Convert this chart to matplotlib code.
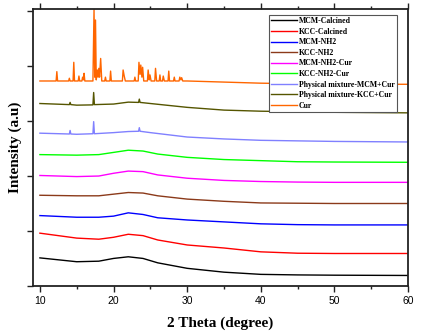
import matplotlib
matplotlib.use("Agg")
import matplotlib.pyplot as plt
from matplotlib.ticker import MultipleLocator

# broad amorphous curves (x in degree, y in plot units)
x_broad = [10, 15, 18, 20, 22, 24, 26, 30, 35, 40, 45, 50, 60]

mcm_calcined = [0.51, 0.44, 0.45, 0.50, 0.53, 0.50, 0.42, 0.32, 0.25, 0.21, 0.20, 0.195, 0.19]
kcc_calcined = [0.96, 0.87, 0.85, 0.885, 0.94, 0.915, 0.836, 0.745, 0.69, 0.62, 0.595, 0.59, 0.59]
mcm_nh2 = [1.28, 1.25, 1.25, 1.27, 1.33, 1.30, 1.24, 1.20, 1.165, 1.13, 1.115, 1.11, 1.11]
kcc_nh2 = [1.65, 1.64, 1.64, 1.67, 1.70, 1.69, 1.64, 1.58, 1.54, 1.51, 1.505, 1.50, 1.50]
mcm_nh2_cur = [2.01, 1.99, 2.00, 2.05, 2.09, 2.08, 2.02, 1.96, 1.92, 1.90, 1.89, 1.885, 1.885]
kcc_nh2_cur = [2.39, 2.38, 2.39, 2.43, 2.47, 2.455, 2.40, 2.34, 2.30, 2.28, 2.26, 2.255, 2.25]

# physical mixtures: small curcumin peaks on top of the silica hump
x_mix = [10, 14.0, 14.1, 14.2, 15, 17.2, 17.3, 17.4, 20, 22, 23.4, 23.5, 23.6, 25, 30, 35, 40, 50, 60]
mix_mcm = [2.78, 2.765, 2.83, 2.765, 2.76, 2.77, 2.99, 2.77, 2.79, 2.81, 2.815, 2.88, 2.815,
           2.79, 2.71, 2.675, 2.65, 2.63, 2.62]
mix_kcc = [3.32, 3.30, 3.34, 3.30, 3.29, 3.295, 3.52, 3.30, 3.31, 3.345, 3.34, 3.40, 3.34,
           3.32, 3.25, 3.20, 3.18, 3.16, 3.15]

# pure curcumin: crystalline peaks
x_cur = [10, 12.2, 12.3, 12.4, 13.9, 14.0, 14.1, 14.5, 14.6, 14.7, 15.2, 15.3, 15.4, 15.7, 15.8,
         15.9, 16.0, 16.1, 17.2, 17.35, 17.45, 17.55, 17.65, 17.8, 17.9, 18.0, 18.1, 18.25, 18.4,
         18.8, 18.9, 19.0, 19.5, 19.6, 19.7, 21.2, 21.3, 21.45, 21.6, 22.8, 22.9, 23.0, 23.35,
         23.45, 23.6, 23.7, 23.85, 23.95, 24.1, 24.6, 24.7, 24.85, 24.95, 25.1, 25.6, 25.7, 25.85,
         26.2, 26.3, 26.4, 26.65, 26.75, 26.9, 27.4, 27.5, 27.6, 28.15, 28.25, 28.35, 28.9, 29.0,
         29.15, 29.25, 29.4, 30, 35, 40, 45, 50, 55, 60]
y_cur = [3.73, 3.73, 3.90, 3.73, 3.73, 3.78, 3.73, 3.73, 4.07, 3.73, 3.73, 3.82, 3.73, 3.73, 3.80,
         3.75, 3.87, 3.73, 3.73, 5.03, 3.80, 4.84, 3.75, 3.93, 3.80, 3.96, 3.80, 4.14, 3.73,
         3.73, 3.80, 3.73, 3.73, 3.91, 3.73, 3.73, 3.93, 3.82, 3.73, 3.73, 3.80, 3.73, 3.73,
         4.07, 3.85, 4.02, 3.80, 3.98, 3.73, 3.73, 3.93, 3.75, 3.84, 3.73, 3.73, 3.96, 3.73,
         3.73, 3.84, 3.73, 3.73, 3.82, 3.73, 3.73, 3.91, 3.73, 3.73, 3.80, 3.73, 3.73, 3.80,
         3.75, 3.79, 3.73, 3.73, 3.71, 3.69, 3.68, 3.675, 3.67, 3.67]

labels = ["MCM-Calcined", "KCC-Calcined", "MCM-NH2", "KCC-NH2", "MCM-NH2-Cur", "KCC-NH2-Cur",
          "Physical mixture-MCM+Cur", "Physical mixture-KCC+Cur", "Cur"]
colors = ["#000000", "#ff0000", "#0000ff", "#8b3a1a", "#ff00ff", "#00ff00",
          "#8080ff", "#555500", "#ff6600"]

xs = [x_broad] * 6 + [x_mix, x_mix, x_cur]
ys = [mcm_calcined, kcc_calcined, mcm_nh2, kcc_nh2, mcm_nh2_cur, kcc_nh2_cur, mix_mcm, mix_kcc, y_cur]

fig = plt.figure(figsize=(4.22, 3.34), dpi=100)
ax = fig.add_axes([0.078, 0.144, 0.889, 0.829])

for x, y, lab, c in zip(xs, ys, labels, colors):
    ax.plot(x, y, color=c, lw=1.0, label=lab)

ax.set_xlim(9.05, 60)
ax.set_ylim(0, 5.04)
ax.xaxis.set_major_locator(MultipleLocator(10))
ax.xaxis.set_minor_locator(MultipleLocator(5))
ax.yaxis.set_major_locator(MultipleLocator(1))
ax.set_yticklabels([])
ax.tick_params(which="both", direction="out", top=True, right=False, width=1.0, color="#222222")
ax.tick_params(which="major", length=4)
ax.tick_params(which="minor", length=2.5)
ax.tick_params(axis="x", labelsize=7.5, pad=3)
for lbl in ax.get_xticklabels():
    lbl.set_family("Liberation Sans")
for sp in ax.spines.values():
    sp.set_linewidth(1.3)
    sp.set_color("#222222")

ax.set_xlabel("2 Theta (degree)", family="Liberation Serif", fontweight="bold", fontsize=11, labelpad=8)
ax.set_ylabel("Intensity (a.u)", family="Liberation Serif", fontweight="bold", fontsize=11, labelpad=0)

leg = ax.legend(loc="upper right", bbox_to_anchor=(0.981, 0.993),
                prop={"family": "Liberation Serif", "weight": "bold", "size": 5.6},
                frameon=True, fancybox=False, edgecolor="#555555", framealpha=1,
                handlelength=3.3, handletextpad=0.3, labelspacing=0.33, borderpad=0.3)
leg.get_frame().set_linewidth(0.8)

fig.savefig("out.png", dpi=100)
